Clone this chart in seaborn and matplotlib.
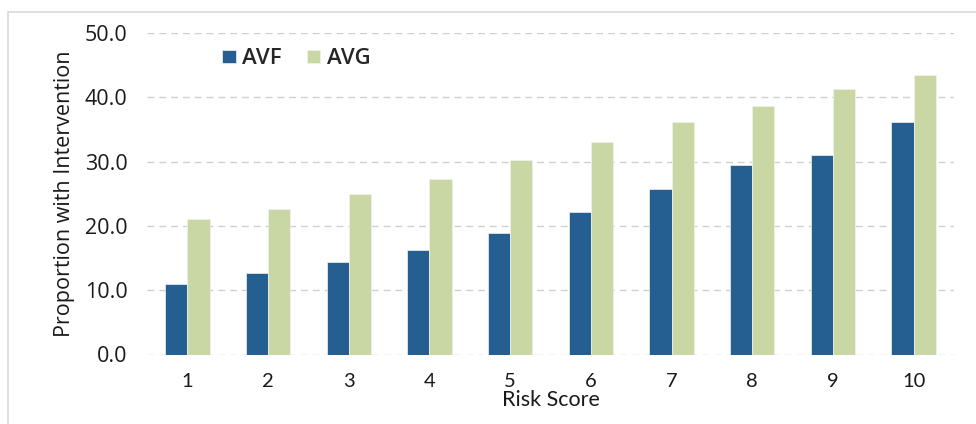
import matplotlib
matplotlib.use("Agg")
import matplotlib.pyplot as plt
from matplotlib.patches import Rectangle
import seaborn as sns
import pandas as pd

# Proportion of patients needing intervention, by risk score
risk_scores = ["1", "2", "3", "4", "5", "6", "7", "8", "9", "10"]
avf_values = [10.9, 12.7, 14.4, 16.2, 18.9, 22.1, 25.8, 29.4, 31.1, 36.1]
avg_values = [21.1, 22.6, 25.0, 27.3, 30.2, 33.1, 36.1, 38.7, 41.3, 43.4]
series_names = ["AVF", "AVG"]
y_ticks = [0, 10, 20, 30, 40, 50]

df = pd.DataFrame({
    "Risk Score": risk_scores * 2,
    "Access": [series_names[0]] * len(risk_scores) + [series_names[1]] * len(risk_scores),
    "Proportion": avf_values + avg_values,
})

sns.set_theme(style="white")
plt.rcParams["font.family"] = ["Open Sans", "DejaVu Sans"]
narrow = ["Lato", "DejaVu Sans"]
ink = "#1A1A1A"

fig = plt.figure(figsize=(9.76, 4.24), dpi=100)
fig.patch.set_facecolor("white")
# thin outer frame around the chart area
fig.patches.append(Rectangle((8 / 976, -0.05), 1.1, (424 - 12) / 424 + 0.05,
                             transform=fig.transFigure, fill=False,
                             edgecolor="#D9D9D9", linewidth=1.2, zorder=0))

ax = fig.add_axes([147 / 976, 69.5 / 424, 807 / 976, 321.5 / 424])

palette = {"AVF": "#255E91", "AVG": "#C9D7A5"}
sns.barplot(data=df, x="Risk Score", y="Proportion", hue="Access",
            order=risk_scores, hue_order=series_names, palette=palette,
            width=0.55, saturation=1, edgecolor="#F2F2F2", linewidth=0.5,
            ax=ax, zorder=3)

ax.set_ylim(0, 50)
ax.set_xlim(-0.5, len(risk_scores) - 0.5)
ax.set_yticks(y_ticks)
ax.set_yticklabels([f"{v:.1f}" for v in y_ticks])
ax.yaxis.grid(True, color="#D0D0D0", linestyle=(0, (5, 3.5)), linewidth=1.0, zorder=0)
ax.xaxis.grid(False)
ax.set_axisbelow(True)
for s in ax.spines.values():
    s.set_visible(False)

ax.tick_params(axis="both", length=0, colors=ink)
ax.tick_params(axis="y", pad=14, labelsize=15.5)
ax.tick_params(axis="x", pad=13, labelsize=14.5)
for lbl in ax.get_xticklabels():
    lbl.set_fontfamily(narrow)

ax.set_ylabel("Proportion with Intervention", fontsize=15.5, color=ink, labelpad=7)
ax.set_xlabel("Risk Score", fontsize=15.5, color=ink, labelpad=0, family=narrow)

ax.legend(loc="center left", bbox_to_anchor=((222 - 147) / 807, (354.5 - 59) / 321.5),
          ncol=2, frameon=False, prop={"size": 16, "weight": "semibold"},
          handlelength=0.62, handleheight=0.55,
          handletextpad=0.3, columnspacing=1.1, borderpad=0, borderaxespad=0)

fig.savefig("out.png", dpi=100, facecolor="white")
